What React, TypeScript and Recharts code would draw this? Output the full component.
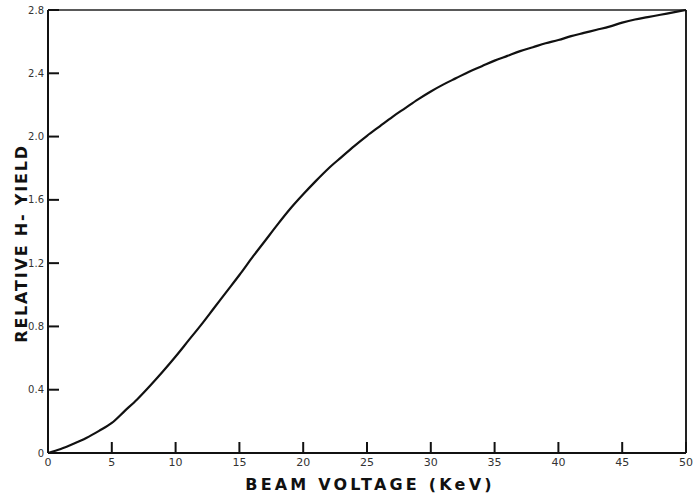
import React from 'react';
import { LineChart, Line, XAxis, YAxis, ReferenceLine, Label } from 'recharts';

// beam voltage (keV) vs relative H- yield
const voltage = [
    0, 1, 2, 3, 4, 5, 6, 7, 8, 9, 10, 11, 12, 13, 14, 15, 16, 17, 18, 19, 20, 21, 22, 23, 24, 25,
    26, 27, 28, 29, 30, 31, 32, 33, 34, 35, 36, 37, 38, 39, 40, 41, 42, 43, 44, 45, 46, 47, 48, 49, 50,
];
const yieldVals = [
    0, 0.025, 0.058, 0.095, 0.14, 0.19, 0.265, 0.34, 0.425, 0.515, 0.61, 0.71, 0.81, 0.915, 1.02, 1.125,
    1.235, 1.34, 1.445, 1.545, 1.635, 1.72, 1.8, 1.87, 1.94, 2.005, 2.065, 2.125, 2.18, 2.235, 2.285,
    2.33, 2.37, 2.41, 2.445, 2.48, 2.51, 2.54, 2.565, 2.59, 2.61, 2.635, 2.655, 2.675, 2.695, 2.72,
    2.74, 2.755, 2.77, 2.785, 2.8,
];

const xTicks = [0, 5, 10, 15, 20, 25, 30, 35, 40, 45, 50];
const yTicks = [0, 0.4, 0.8, 1.2, 1.6, 2.0, 2.4, 2.8];

const data = voltage.map((v, i) => ({ v, y: yieldVals[i] }));

const FONT = '"DejaVu Sans", Arial, sans-serif';

const XTitle = (props: any) => {
    const vb = props.viewBox;
    return (
        <text
            x={vb.x + vb.width / 2 + 3}
            y={490}
            textAnchor="middle"
            fontSize={16}
            fontWeight="bold"
            fill="#111"
            fontFamily={FONT}
            style={{ letterSpacing: 3.2 }}
        >
            BEAM VOLTAGE  (KeV)
        </text>
    );
};

const YTitle = (props: any) => {
    const vb = props.viewBox;
    const cx = 27;
    const cy = vb.y + vb.height / 2 + 12;
    return (
        <text
            x={cx}
            y={cy}
            transform={`rotate(-90 ${cx} ${cy})`}
            textAnchor="middle"
            fontSize={16}
            fontWeight="bold"
            fill="#111"
            fontFamily={FONT}
            style={{ letterSpacing: 1.8 }}
        >
            RELATIVE H- YIELD
        </text>
    );
};

export default function App() {
    return (
        <div style={{ position: 'absolute', left: 0, top: 0, width: 697, height: 495, background: '#fff' }}>
            <LineChart width={697} height={495} data={data} margin={{ top: 10, right: 11, left: 48, bottom: 0 }}>
                <XAxis
                    dataKey="v"
                    type="number"
                    domain={[0, 50]}
                    ticks={xTicks}
                    tickSize={-11}
                    tickMargin={16}
                    tickLine={{ stroke: '#111', strokeWidth: 2 }}
                    tick={{ fontSize: 11, fill: '#333', fontFamily: FONT }}
                    height={42}
                    axisLine={{ stroke: '#111', strokeWidth: 2 }}
                >
                    <Label content={<XTitle />} />
                </XAxis>
                {/* mirrored so the tick marks point into the plot; labels pushed back outside */}
                <YAxis
                    type="number"
                    domain={[0, 2.8]}
                    ticks={yTicks}
                    mirror
                    tickSize={11}
                    tickMargin={-15}
                    tickFormatter={(v: number) => (v === 0 ? '0' : v.toFixed(1))}
                    tickLine={{ stroke: '#111', strokeWidth: 2 }}
                    tick={{ fontSize: 10, fill: '#333', fontFamily: FONT, textAnchor: 'end' }}
                    width={40}
                    axisLine={{ stroke: '#111', strokeWidth: 2 }}
                >
                    <Label content={<YTitle />} />
                </YAxis>
                <ReferenceLine y={2.8} stroke="#222" strokeWidth={1.5} />
                <ReferenceLine x={50} stroke="#222" strokeWidth={2} />
                <Line
                    type="monotone"
                    dataKey="y"
                    stroke="#111"
                    strokeWidth={2.2}
                    dot={false}
                    isAnimationActive={false}
                />
            </LineChart>
        </div>
    );
}
